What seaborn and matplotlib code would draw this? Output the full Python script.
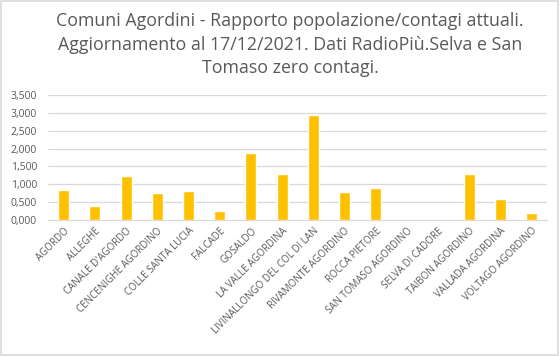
import matplotlib
matplotlib.use("Agg")
import matplotlib.pyplot as plt
from matplotlib.patches import Rectangle
import seaborn as sns
import pandas as pd

sns.set_style("white")
plt.rcParams["font.family"] = ["Open Sans", "DejaVu Sans"]

comuni = ["AGORDO", "ALLEGHE", "CANALE D'AGORDO", "CENCENIGHE AGORDINO",
          "COLLE SANTA LUCIA", "FALCADE", "GOSALDO", "LA VALLE AGORDINA",
          "LIVINALLONGO DEL COL DI LAN", "RIVAMONTE AGORDINO", "ROCCA PIETORE",
          "SAN TOMASO AGORDINO", "SELVA DI CADORE", "TAIBON AGORDINO",
          "VALLADA AGORDINA", "VOLTAGO AGORDINO"]
rapporto = [0.84, 0.39, 1.23, 0.765, 0.82, 0.25, 1.885, 1.29,
            2.94, 0.78, 0.90, 0.0, 0.0, 1.29, 0.60, 0.20]
yticks = [0, 0.5, 1.0, 1.5, 2.0, 2.5, 3.0, 3.5]
ytick_labels = ["0,000", "0,500", "1,000", "1,500", "2,000", "2,500", "3,000", "3,500"]
titolo = ("Comuni Agordini - Rapporto popolazione/contagi attuali.\n"
          "Aggiornamento al 17/12/2021. Dati RadioPiù.Selva e San\n"
          "Tomaso zero contagi.")

df = pd.DataFrame({"comune": comuni, "rapporto": rapporto})

fig = plt.figure(figsize=(5.6, 3.56), dpi=100)
ax = fig.add_axes([0.086, 0.382, 0.891, 0.351])
sns.barplot(data=df, x="comune", y="rapporto", color="#FFC000", width=0.35,
            saturation=1, ax=ax)

ax.set_ylim(0, 3.5)
ax.set_yticks(yticks)
ax.set_yticklabels(ytick_labels, fontsize=7.5, color="#595959")
ax.set_xticks(range(len(comuni)))
ax.set_xticklabels(comuni, rotation=45, ha="right", rotation_mode="anchor",
                   fontsize=7, color="#595959")
ax.tick_params(axis="y", length=0, pad=8)
ax.tick_params(axis="x", length=0, pad=4)
ax.set_xlabel("")
ax.set_ylabel("")
ax.grid(axis="y", color="#D9D9D9", linewidth=0.9)
ax.set_axisbelow(True)
for s in ["top", "right", "left"]:
    ax.spines[s].set_visible(False)
ax.spines["bottom"].set_color("#D9D9D9")

fig.text(0.518, 0.965, titolo, ha="center", va="top", fontsize=12.8,
         color="#595959", linespacing=1.38)

fig.patches.append(Rectangle((0.002, 0.003), 0.995, 0.994, transform=fig.transFigure,
                             fill=False, edgecolor="#D9D9D9", linewidth=1.2))

fig.savefig("out.png", dpi=100)
